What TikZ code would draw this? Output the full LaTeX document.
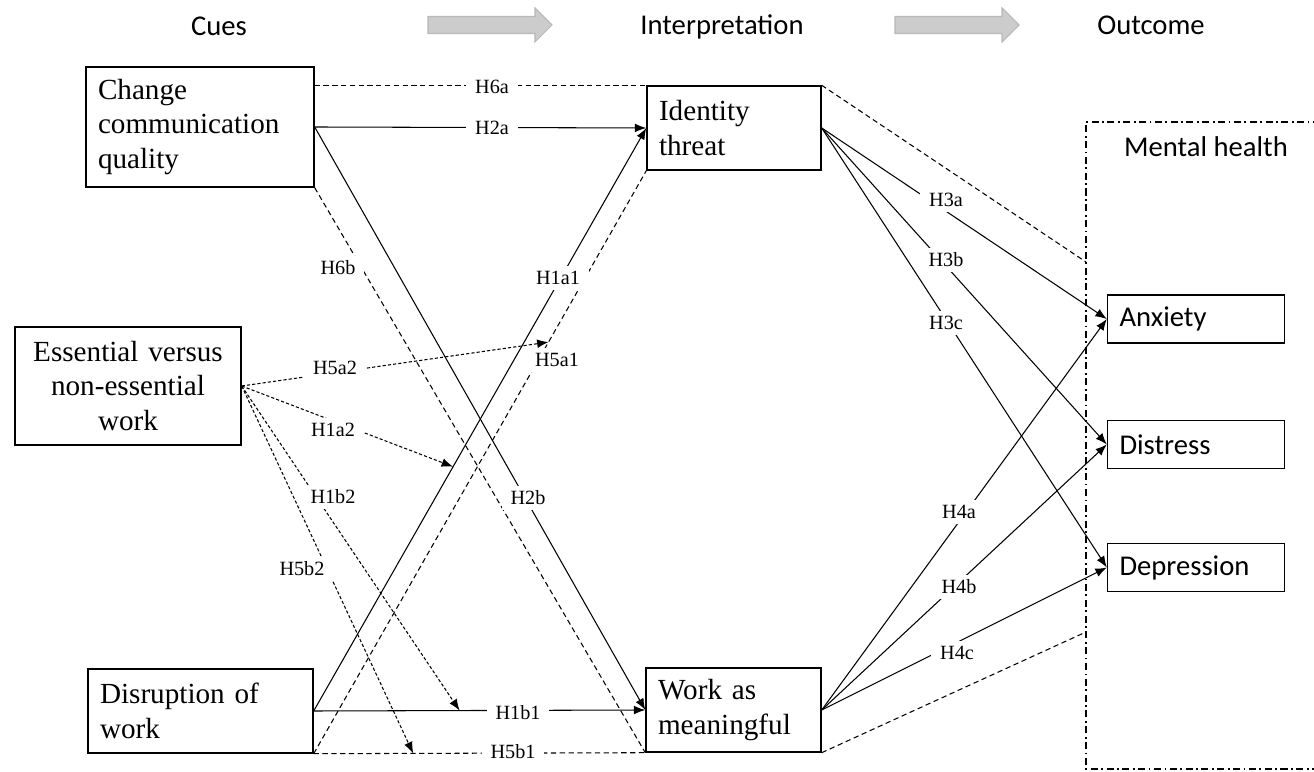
\documentclass[tikz,border=0pt]{standalone}
\usepackage{fontspec}
\setmainfont{Liberation Serif}
\newfontfamily\calibfont{Carlito}
\usetikzlibrary{arrows.meta,calc}

\tikzset{
	box/.style={draw, line width=0.8pt, inner xsep=0.24cm, align=left, minimum height=1.68cm,
		font=\fontsize{16.6}{19.8}\selectfont},
	outbox/.style={draw, line width=0.8pt, inner xsep=0.24cm, align=left, text width=3.06cm,
		minimum height=0.96cm, font=\calibfont\fontsize{16.3}{19}\selectfont},
	head/.style={font=\calibfont\fontsize{16.3}{19}\selectfont},
	flow/.style={draw=black!28, fill=black!20, line width=0.6pt},
	hyp/.style={line width=0.6pt},
	arr/.style={-{Latex[length=6.5pt,width=5pt]}},
	mod/.style={dash pattern=on 3pt off 2pt},
	ess/.style={dash pattern=on 1.8pt off 1.2pt},
	lbl/.style={fill=white, inner xsep=5pt, inner ysep=3pt, font=\fontsize{11.5}{13}\selectfont}
}

\begin{document}
\begin{tikzpicture}
	\useasboundingbox (0,0) rectangle (26.28,15.42);

	% headings
	\node[head] (cues) at (4.38,14.9) {Cues};
	\node[head] (interp) at (14.44,14.88) {Interpretation};
	\node[head] (outc) at (23.02,14.92) {Outcome};
	\foreach \s in {8.56,17.9}
	\draw[flow, xshift=\s cm] (0,14.75)--(2.14,14.75)--(2.14,14.58)--(2.48,14.92)
		--(2.14,15.26)--(2.14,15.09)--(0,15.09)--cycle;

	% cues and interpretation
	\node[box, text width=4.08cm, minimum height=2.4cm] (chg) at (4.0,12.88) {Change\\communication\\quality};
	\node[box, align=center, text width=4.04cm, minimum height=2.36cm] (ess) at (2.56,7.7) {Essential versus\\non-essential\\work};
	\node[box, text width=4.02cm] (dis) at (4.01,1.2) {Disruption of\\work};
	\node[box, text width=3.0cm] (ident) at (14.68,12.86) {Identity\\threat};
	\node[box, text width=3.02cm] (work) at (14.67,1.22) {Work as\\meaningful};

	% outcome
	\draw[line width=0.6pt, dash pattern=on 4pt off 2pt on 1pt off 2pt]
		(26.4,12.98) -- (21.72,12.98) -- (21.72,0.04) -- (26.4,0.04);
	\node[head] (mh) at (24.12,12.48) {Mental health};
	\node[outbox] (anx) at (23.92,9.04) {Anxiety};
	\node[outbox] (dst) at (23.92,6.53) {Distress};
	\node[outbox] (dep) at (23.92,4.07) {Depression};
	\coordinate (mhA) at (21.72,10.18);
	\coordinate (mhB) at (21.72,2.78);

	% points where the moderators meet the paths
	\coordinate (onH5a1) at ($(dis.south east)!0.706!(ident.south west)$);
	\coordinate (onH1a1) at ($(dis.east)!0.419!(ident.west)$);
	\coordinate (onH1b1) at ($(dis.east)!0.44!(work.west)$);
	\coordinate (onH5b1) at ($(dis.south east)!0.30!(work.south west)$);

	% paths from the cues
	\draw[hyp, mod] (chg.east |- ident.north west) -- (ident.north west);
	\draw[hyp, arr] (chg.east) -- (ident.west);
	\draw[hyp, arr] (chg.east) -- (work.west);
	\draw[hyp, mod] (chg.south east) -- (work.south west);
	\draw[hyp, arr] (dis.east) -- (ident.west);
	\draw[hyp, mod] (dis.south east) -- (ident.south west);
	\draw[hyp, arr] (dis.east) -- (work.west);
	\draw[hyp, mod] (dis.south east) -- (work.south west);

	% essential work as moderator
	\draw[hyp, ess, arr] (ess.east) -- (onH5a1);
	\draw[hyp, ess, arr] (ess.east) -- (onH1a1);
	\draw[hyp, ess, arr] (ess.east) -- (onH1b1);
	\draw[hyp, ess, arr] (ess.east) -- (onH5b1);

	% paths to mental health
	\draw[hyp, mod] (ident.north east) -- (mhA);
	\draw[hyp, mod] (work.south east) -- (mhB);
	\foreach \o in {anx,dst,dep}{
		\draw[hyp, arr] (ident.east) -- (\o.west);
		\draw[hyp, arr] (work.east) -- (\o.west);
	}

	% hypothesis labels
	\node[lbl] (lH6a) at (9.84,13.68) {H6a};
	\node[lbl] (lH2a) at (9.84,12.86) {H2a};
	\node[lbl] (lH6b) at (6.76,10.06) {H6b};
	\node[lbl] (lH2b) at (10.56,5.46) {H2b};
	\node[lbl] (lH1a1) at (11.16,9.86) {H1a1};
	\node[lbl] (lH5a1) at (11.14,8.22) {H5a1};
	\node[lbl] (lH5a2) at (6.7,8.06) {H5a2};
	\node[lbl] (lH1a2) at (6.66,6.82) {H1a2};
	\node[lbl] (lH1b2) at (6.66,5.48) {H1b2};
	\node[lbl] (lH5b2) at (6.04,4.04) {H5b2};
	\node[lbl] (lH1b1) at (10.36,1.16) {H1b1};
	\node[lbl] (lH5b1) at (10.26,0.38) {H5b1};
	\node[lbl] (lH3a) at (18.92,11.42) {H3a};
	\node[lbl] (lH3b) at (18.92,10.22) {H3b};
	\node[lbl] (lH3c) at (18.92,8.96) {H3c};
	\node[lbl] (lH4a) at (19.18,5.18) {H4a};
	\node[lbl] (lH4b) at (19.18,3.68) {H4b};
	\node[lbl] (lH4c) at (19.14,2.36) {H4c};
\end{tikzpicture}
\end{document}
